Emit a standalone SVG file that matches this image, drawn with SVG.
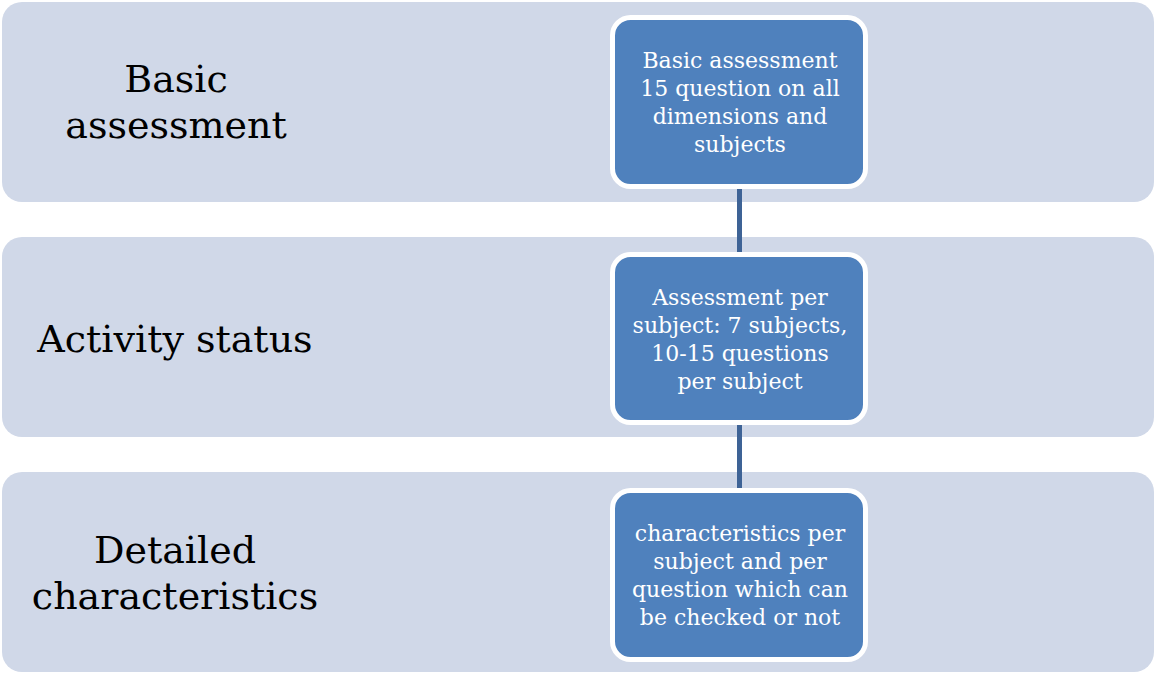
<svg xmlns="http://www.w3.org/2000/svg" width="1155" height="673" viewBox="0 0 1155 673">
<style>
.band{fill:#d0d8e8}
.node{fill:#4f81bd;stroke:#fff;stroke-width:5}
.lbl{font-family:"DejaVu Serif",serif;font-size:38px;fill:#000;text-anchor:middle}
.nt{font-family:"DejaVu Serif",serif;font-size:22px;fill:#fff;text-anchor:middle}
.conn{stroke:#3e6396;stroke-width:5}
</style>
<rect width="1155" height="673" fill="#fff"/>
<g id="band1"><rect class="band" x="2" y="2" width="1152" height="200" rx="20"/>
<text class="lbl" x="176" y="92">Basic</text><text class="lbl" x="176" y="138">assessment</text></g>
<g id="band2"><rect class="band" x="2" y="237" width="1152" height="200" rx="20"/>
<text class="lbl" x="175" y="352">Activity status</text></g>
<g id="band3"><rect class="band" x="2" y="472" width="1152" height="200" rx="20"/>
<text class="lbl" x="175" y="563">Detailed</text><text class="lbl" x="175" y="609">characteristics</text></g>
<g id="connectors">
<line class="conn" x1="739.5" y1="188" x2="739.5" y2="253"/>
<line class="conn" x1="739.5" y1="423" x2="739.5" y2="489"/>
</g>
<g id="node1"><rect class="node" x="612.5" y="17.5" width="253" height="169" rx="18"/>
<text class="nt" x="740" y="68">Basic assessment</text><text class="nt" x="740" y="96">15 question on all</text><text class="nt" x="740" y="124">dimensions and</text><text class="nt" x="740" y="152">subjects</text></g>
<g id="node2"><rect class="node" x="612.5" y="254.5" width="253" height="168" rx="18"/>
<text class="nt" x="740" y="305">Assessment per</text><text class="nt" x="740" y="333">subject: 7 subjects,</text><text class="nt" x="740" y="361">10-15 questions</text><text class="nt" x="740" y="389">per subject</text></g>
<g id="node3"><rect class="node" x="612.5" y="490.5" width="253" height="169" rx="18"/>
<text class="nt" x="740" y="541">characteristics per</text><text class="nt" x="740" y="569">subject and per</text><text class="nt" x="740" y="597">question which can</text><text class="nt" x="740" y="625">be checked or not</text></g>
</svg>
